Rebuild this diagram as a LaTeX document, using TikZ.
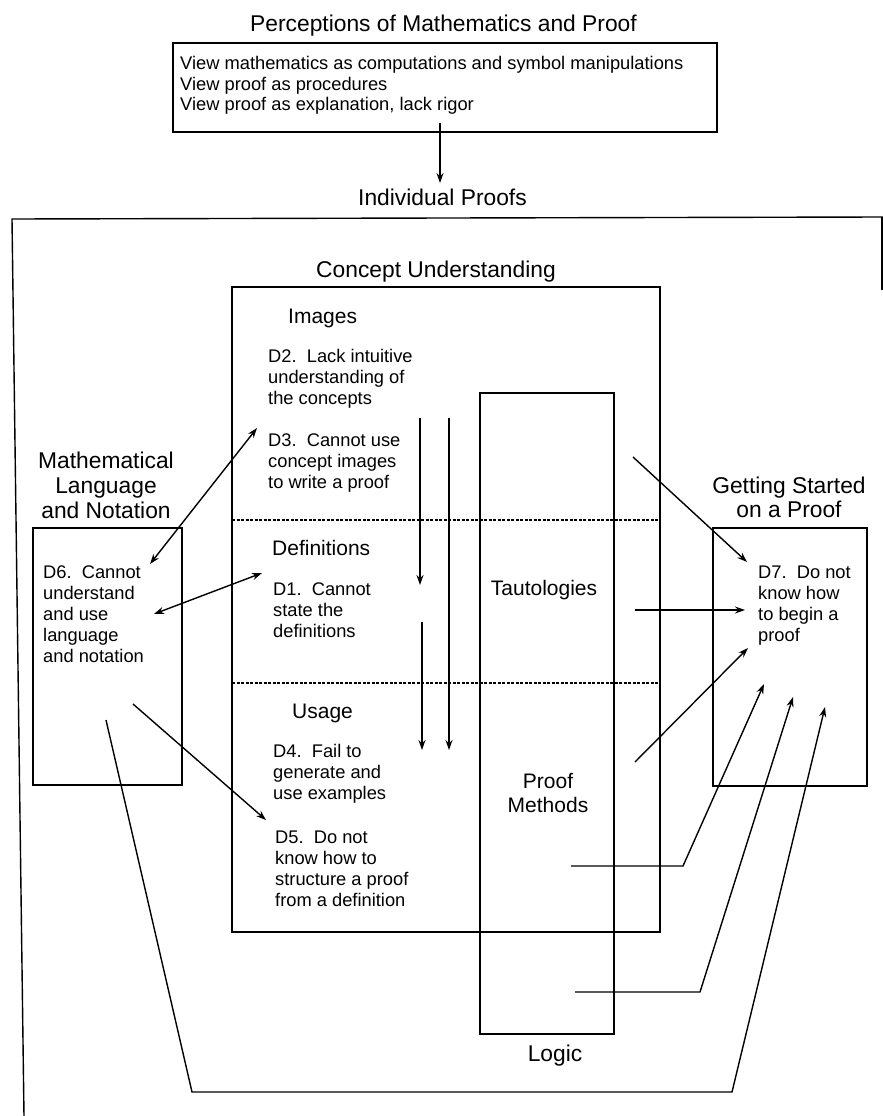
\documentclass[tikz,border=0pt]{standalone}
\usepackage{fontspec}
\setmainfont{Liberation Sans}
\usetikzlibrary{arrows.meta}
\tikzset{
  boxx/.style={draw, line width=1.4pt, inner sep=0pt, outer sep=0pt},
  hdr/.style={font=\fontsize{22.8}{25}\selectfont, inner sep=0pt, anchor=base, align=center},
  sub/.style={font=\fontsize{21}{24}\selectfont, inner sep=0pt, anchor=base, align=center},
  subl/.style={font=\fontsize{21}{24}\selectfont, inner sep=0pt, anchor=base west},
  txt/.style={font=\fontsize{18.3}{21}\selectfont, inner sep=0pt, anchor=base west, align=left},
  toptxt/.style={font=\fontsize{18.3}{20}\selectfont, inner sep=0pt, anchor=base west, align=left},
  conn/.style={line width=1.4pt, line join=miter},
  arr/.style={conn, -{Stealth[length=10pt,width=7pt]}},
  darr/.style={conn, {Stealth[length=10pt,width=7pt]}-{Stealth[length=10pt,width=7pt]}},
  dotline/.style={line width=1.6pt, dash pattern=on 3pt off 1.5pt}
}
\begin{document}
\begin{tikzpicture}[x=1pt,y=-1pt]
\useasboundingbox (0,0) rectangle (883,1116);

% top (multi-line nodes are anchored at the baseline of their last line)
\node[hdr] (title) at (443.5,32) {Perceptions of Mathematics and Proof};
\node[boxx, minimum width=544pt, minimum height=89pt] (topbox) at (445,87.5) {};
\node[toptxt] (toptext) at (180,110) {View mathematics as computations and symbol manipulations\\View proof as procedures\\View proof as explanation, lack rigor};
\coordinate (ta) at (440,123);
\coordinate (tb) at (440,183);
\draw[arr] (ta) -- (tb);
\node[hdr] (indiv) at (442.5,205) {Individual Proofs};

% outer frame
\coordinate (o1) at (12,219);
\coordinate (o2) at (883,217);
\coordinate (o3) at (24,1116);
\coordinate (o4) at (882,217);
\coordinate (o5) at (882,290);
\draw[conn] (o3) -- (o1) -- (o2);
\draw[conn] (o4) -- (o5);

% concept understanding
\node[hdr] (cu) at (436,277) {Concept Understanding};
\node[boxx, minimum width=428pt, minimum height=645pt] (concept) at (446,609.5) {};
\node[subl] (images) at (288,323) {Images};
\node[txt] (d2) at (268,404) {D2.\ \ Lack intuitive\\understanding of\\the concepts};
\node[txt] (d3) at (268,488) {D3.\ \ Cannot use\\concept images\\to write a proof};
\coordinate (dl1a) at (232,520);
\coordinate (dl1b) at (660,520);
\draw[dotline] (dl1a) -- (dl1b);
\node[subl] (defs) at (272,555) {Definitions};
\node[txt] (d1) at (273,637) {D1.\ \ Cannot\\state the\\definitions};
\coordinate (dl2a) at (232,683);
\coordinate (dl2b) at (660,683);
\draw[dotline] (dl2a) -- (dl2b);
\node[subl] (usage) at (292,718) {Usage};
\node[txt] (d4) at (273,799) {D4.\ \ Fail to\\generate and\\use examples};
\node[txt] (d5) at (275,906) {D5.\ \ Do not\\know how to\\structure a proof\\from a definition};

% vertical arrows
\coordinate (va1) at (420,418); \coordinate (va2) at (420,585);
\coordinate (vb1) at (449,418); \coordinate (vb2) at (449,750);
\coordinate (vc1) at (422,622); \coordinate (vc2) at (422,750);
\draw[arr] (va1) -- (va2);
\draw[arr] (vb1) -- (vb2);
\draw[arr] (vc1) -- (vc2);

% logic
\node[boxx, minimum width=134pt, minimum height=641pt] (logic) at (547,713.5) {};
\node[sub] (taut) at (544,595) {Tautologies};
\node[sub] (pm) at (548,812) {Proof\\Methods};
\node[hdr] (logiclbl) at (555,1061) {Logic};

% mathematical language
\node[hdr] (ml) at (106,518) {Mathematical\\Language\\and Notation};
\node[boxx, minimum width=149pt, minimum height=257pt] (d6box) at (107.5,656.5) {};
\node[txt] (d6) at (43,662) {D6.\ \ Cannot\\understand\\and use\\language\\and notation};

% getting started
\node[hdr, font=\fontsize{22.8}{24}\selectfont] (gs) at (789,517) {Getting Started\\on a Proof};
\node[boxx, minimum width=154pt, minimum height=258pt] (d7box) at (790,657) {};
\node[txt] (d7) at (758,641) {D7.\ \ Do not\\know how\\to begin a\\proof};

% connectors around D6
\coordinate (a63) at (150,564); \coordinate (a36) at (257,428);
\draw[darr] (a63) -- (a36);
\coordinate (a61) at (154,614); \coordinate (a16) at (262,573);
\draw[darr] (a61) -- (a16);
\coordinate (a65) at (133,704); \coordinate (a56) at (266,820);
\draw[arr] (a65) -- (a56);

% trapezoid connector
\coordinate (tr1) at (106,720);
\coordinate (tr2) at (192,1092);
\coordinate (tr3) at (732,1092);
\coordinate (tr4) at (825,707);
\draw[arr] (tr1) -- (tr2) -- (tr3) -- (tr4);

% connectors into D7
\coordinate (m21) at (575,992); \coordinate (m22) at (700,992); \coordinate (m23) at (793,697);
\draw[arr] (m21) -- (m22) -- (m23);
\coordinate (m11) at (571,866); \coordinate (m12) at (683,866); \coordinate (m13) at (764,684);
\draw[arr] (m11) -- (m12) -- (m13);
\coordinate (t1) at (635,610); \coordinate (t2) at (745,610);
\draw[arr] (t1) -- (t2);
\coordinate (p1) at (635,762); \coordinate (p2) at (748,648);
\draw[arr] (p1) -- (p2);
\coordinate (c1) at (633,457); \coordinate (c2) at (747,562);
\draw[arr] (c1) -- (c2);
\end{tikzpicture}
\end{document}
